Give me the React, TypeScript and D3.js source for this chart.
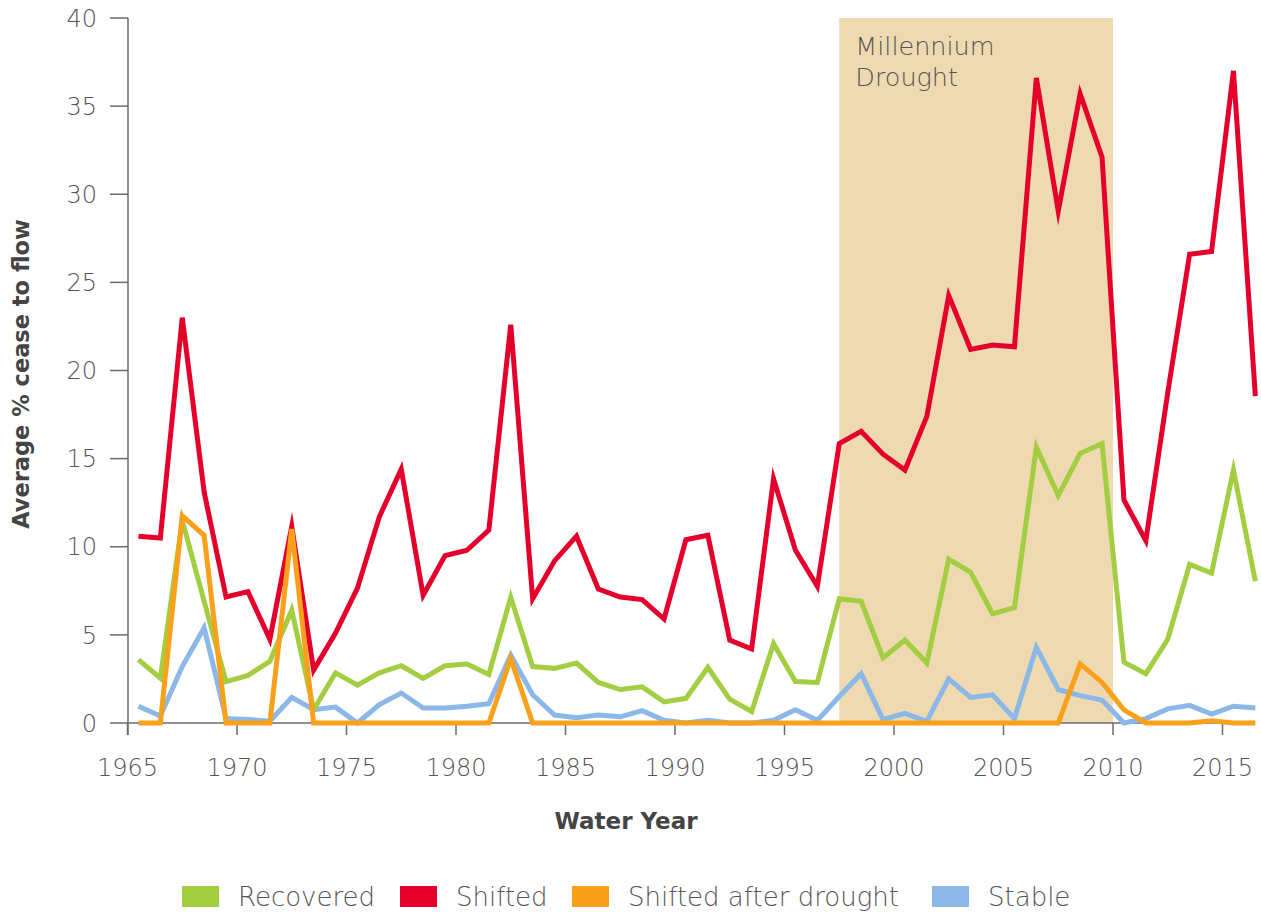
import React from "react";
import * as d3 from "d3";

const years: number[] = [
  1965.5, 1966.5, 1967.5, 1968.5, 1969.5, 1970.5, 1971.5, 1972.5, 1973.5, 1974.5,
  1975.5, 1976.5, 1977.5, 1978.5, 1979.5, 1980.5, 1981.5, 1982.5, 1983.5, 1984.5,
  1985.5, 1986.5, 1987.5, 1988.5, 1989.5, 1990.5, 1991.5, 1992.5, 1993.5, 1994.5,
  1995.5, 1996.5, 1997.5, 1998.5, 1999.5, 2000.5, 2001.5, 2002.5, 2003.5, 2004.5,
  2005.5, 2006.5, 2007.5, 2008.5, 2009.5, 2010.5, 2011.5, 2012.5, 2013.5, 2014.5,
  2015.5, 2016.5,
];

const recovered: number[] = [
  3.6, 2.55, 11.5, 6.9, 2.35, 2.7, 3.5, 6.4, 0.75, 2.85,
  2.15, 2.85, 3.25, 2.53, 3.25, 3.35, 2.75, 7.13, 3.2, 3.1,
  3.4, 2.3, 1.9, 2.05, 1.2, 1.4, 3.15, 1.35, 0.65, 4.5,
  2.35, 2.3, 7.05, 6.9, 3.7, 4.7, 3.4, 9.3, 8.55, 6.2,
  6.55, 15.65, 12.9, 15.3, 15.85, 3.45, 2.8, 4.75, 9.0, 8.5,
  14.35, 8.05,
];

const shifted: number[] = [
  10.6, 10.5, 23.0, 13.1, 7.15, 7.45, 4.75, 11.15, 3.0, 5.1,
  7.65, 11.7, 14.4, 7.25, 9.5, 9.8, 10.95, 22.6, 7.05, 9.2,
  10.6, 7.6, 7.15, 7.0, 5.9, 10.4, 10.65, 4.7, 4.2, 13.85,
  9.8, 7.75, 15.85, 16.55, 15.25, 14.35, 17.4, 24.25, 21.2, 21.45,
  21.35, 36.6, 29.05, 35.7, 32.1, 12.65, 10.35, 18.75, 26.6, 26.75,
  37.0, 18.55,
];

const shiftedAfterDrought: number[] = [
  0, 0, 11.75, 10.65, 0, 0, 0, 11.0, 0, 0,
  0, 0, 0, 0, 0, 0, 0, 3.65, 0, 0,
  0, 0, 0, 0, 0, 0, 0, 0, 0, 0,
  0, 0, 0, 0, 0, 0, 0, 0, 0, 0,
  0, 0, 0, 3.35, 2.3, 0.75, 0, 0, 0, 0.12,
  0, 0,
];

const stable: number[] = [
  0.95, 0.4, 3.2, 5.4, 0.25, 0.2, 0.1, 1.45, 0.75, 0.9,
  0, 1.05, 1.7, 0.85, 0.85, 0.95, 1.1, 3.85, 1.6, 0.45,
  0.3, 0.45, 0.35, 0.7, 0.15, 0, 0.15, 0, 0, 0.15,
  0.75, 0.15, 1.5, 2.8, 0.2, 0.55, 0.1, 2.5, 1.45, 1.6,
  0.25, 4.3, 1.9, 1.55, 1.3, 0, 0.25, 0.8, 1.0, 0.5,
  0.95, 0.85,
];

const xTicks: number[] = [1965, 1970, 1975, 1980, 1985, 1990, 1995, 2000, 2005, 2010, 2015];
const yTicks: number[] = [0, 5, 10, 15, 20, 25, 30, 35, 40];
const droughtRange: number[] = [1997.5, 2010];
const droughtLabel: string[] = ["Millennium", "Drought"];

const seriesNames: string[] = ["Recovered", "Shifted", "Shifted after drought", "Stable"];
const seriesColors: string[] = ["#A3CE41", "#E4002B", "#F9A11B", "#8BB8E8"];
const seriesValues: number[][] = [recovered, shifted, shiftedAfterDrought, stable];
const drawOrder: number[] = [3, 0, 1, 2];

const W = 1261;
const H = 912;

export default function App() {
  const x = d3.scaleLinear().domain([1965, 2015]).range([127.5, 1222.5]);
  const y = d3.scaleLinear().domain([0, 40]).range([723, 18]);
  const line = d3
    .line<number>()
    .x((_, i) => x(years[i]))
    .y((d) => y(d));

  const textColor = "#555";
  const axisColor = "#6b6b6b";
  const lightFont = "'DejaVu Sans', sans-serif";
  const boldFont = "'DejaVu Sans', sans-serif";

  const legendX = [182, 400, 572, 932];

  return (
    <svg
      width={W}
      height={H}
      style={{ position: "absolute", left: 0, top: 0, background: "#fff" }}
    >
      <rect
        x={x(droughtRange[0])}
        y={y(40)}
        width={x(droughtRange[1]) - x(droughtRange[0])}
        height={y(0) - y(40)}
        fill="#EFD9B0"
      />
      {droughtLabel.map((t, i) => (
        <text
          key={t}
          x={x(droughtRange[0]) + 16}
          y={55 + i * 31}
          fontFamily={lightFont}
          fontWeight={200}
          fontSize={25.5}
          fill={textColor}
        >
          {t}
        </text>
      ))}

      {/* y axis */}
      <line x1={128} x2={128} y1={y(40)} y2={735} stroke={axisColor} strokeWidth={1.5} />
      {yTicks.map((t) => (
        <g key={t}>
          <line x1={110} x2={128} y1={y(t)} y2={y(t)} stroke={axisColor} strokeWidth={1.5} />
          <text
            x={97}
            y={y(t)}
            dy="0.36em"
            textAnchor="end"
            fontFamily={lightFont}
            fontWeight={200}
            fontSize={24}
            fill={textColor}
          >
            {t}
          </text>
        </g>
      ))}

      {/* x axis */}
      <line x1={128} x2={x(2015)} y1={y(0)} y2={y(0)} stroke={axisColor} strokeWidth={1.5} />
      {xTicks.map((t) => (
        <g key={t}>
          <line x1={x(t)} x2={x(t)} y1={y(0)} y2={735} stroke={axisColor} strokeWidth={1.5} />
          <text
            x={x(t)}
            y={776}
            textAnchor="middle"
            fontFamily={lightFont}
            fontWeight={200}
            fontSize={24}
            fill={textColor}
          >
            {t}
          </text>
        </g>
      ))}

      {/* series */}
      {drawOrder.map((si) => (
        <path
          key={seriesNames[si]}
          d={line(seriesValues[si]) || ""}
          fill="none"
          stroke={seriesColors[si]}
          strokeWidth={5}
          strokeLinejoin="miter"
          strokeMiterlimit={6}
        />
      ))}

      {/* axis titles */}
      <text
        x={626}
        y={829}
        textAnchor="middle"
        fontFamily={boldFont}
        fontWeight={700}
        fontSize={23}
        fill="#444"
      >
        Water Year
      </text>
      <text
        transform={`translate(29,374) rotate(-90)`}
        textAnchor="middle"
        fontFamily={boldFont}
        fontWeight={700}
        fontSize={22.5}
        fill="#444"
      >
        Average % cease to flow
      </text>

      {/* legend */}
      {seriesNames.map((n, i) => (
        <g key={n}>
          <rect x={legendX[i]} y={886} width={37} height={21} fill={seriesColors[i]} />
          <text
            x={legendX[i] + 56}
            y={897}
            dy="0.36em"
            fontFamily={lightFont}
            fontWeight={200}
            fontSize={26}
            fill={textColor}
          >
            {n}
          </text>
        </g>
      ))}
    </svg>
  );
}
